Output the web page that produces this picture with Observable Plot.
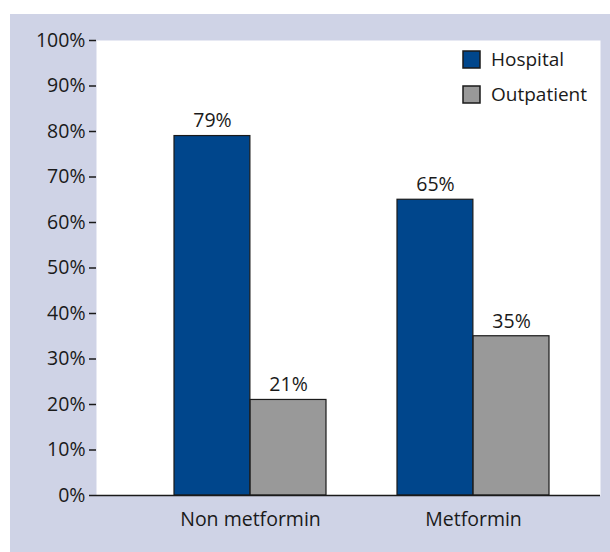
<!DOCTYPE html>
<html>
<head>
<meta charset="utf-8">
<script src="https://cdn.jsdelivr.net/npm/d3@7"></script>
<script src="https://cdn.jsdelivr.net/npm/@observablehq/plot@0.6"></script>
<style>
  html, body { margin: 0; padding: 0; background: #ffffff; }
  #panel {
    position: absolute; left: 10px; top: 14px;
    width: 600px; height: 538px;
    background: #cfd3e6;
    font-family: "Open Sans", "Noto Sans", sans-serif;
  }
  #panel > svg { position: absolute; left: 0; top: 0; overflow: visible; z-index: 1; }
  #legend { position: absolute; left: 453px; top: 36px; z-index: 2; width: 140px; }
  .key-swatches {
    display: flex !important; flex-direction: column; align-items: flex-start !important;
    margin: 0 !important; min-height: 0 !important;
  }
  .key-swatch {
    display: flex !important; align-items: center;
    font-size: 19px; color: #1a1a1a; margin: 0 0 16px 0 !important;
    font-family: "Open Sans", "Noto Sans", sans-serif; line-height: 19px;
    overflow: visible !important; white-space: nowrap; width: auto !important;
  }
  .key-swatch svg { position: static !important; overflow: visible; margin-right: 11px !important; }
  .key-swatch svg rect { stroke: #1a1a1a; stroke-width: 1.5px; }
</style>
</head>
<body>
<div id="panel"><div id="legend"></div></div>
<script>
// Share of patients by care setting, split by metformin use
const groups = ["Non metformin", "Metformin"];
const series = ["Hospital", "Outpatient"];
const hospital = [79, 65];
const outpatient = [21, 35];
const colors = ["#00468c", "#999999"];
const yTicks = [0, 10, 20, 30, 40, 50, 60, 70, 80, 90, 100];

const rows = groups.flatMap((g, i) => [
  {group: g, series: series[0], value: hospital[i]},
  {group: g, series: series[1], value: outpatient[i]}
]);

// Band layout for the two groups; each band is split between the two series
const width = 600, height = 538;
const margin = {top: 26, right: 10, bottom: 57, left: 86};
const padInner = 0.32, padOuter = 0.2857;
const innerW = width - margin.left - margin.right;
const step = innerW / (groups.length - padInner + 2 * padOuter);
const half = step * (1 - padInner) / 2;

const font = 19.5;

const chart = Plot.plot({
  width, height,
  marginTop: margin.top, marginRight: margin.right,
  marginBottom: margin.bottom, marginLeft: margin.left,
  style: {background: "transparent", fontFamily: "'Open Sans', 'Noto Sans', sans-serif", fontSize: `${font}px`, color: "#1a1a1a"},
  x: {domain: groups, paddingInner: padInner, paddingOuter: padOuter, align: 0.6, label: null},
  y: {domain: [0, 100], label: null},
  color: {domain: series, range: colors},
  marks: [
    Plot.frame({fill: "white", stroke: null}),
    Plot.barY(rows.filter(d => d.series === series[0]), {
      x: "group", y: "value", fill: "series", stroke: "#1a1a1a", strokeWidth: 1.2, insetRight: half
    }),
    Plot.barY(rows.filter(d => d.series === series[1]), {
      x: "group", y: "value", fill: "series", stroke: "#1a1a1a", strokeWidth: 1.2, insetLeft: half
    }),
    Plot.text(rows.filter(d => d.series === series[0]), {
      x: "group", y: "value", text: d => `${d.value}%`, dx: -half / 2, dy: -15,
      fontSize: font, fill: "#1a1a1a"
    }),
    Plot.text(rows.filter(d => d.series === series[1]), {
      x: "group", y: "value", text: d => `${d.value}%`, dx: half / 2, dy: -15,
      fontSize: font, fill: "#1a1a1a"
    }),
    Plot.ruleY([0], {stroke: "#1a1a1a", strokeWidth: 1.5}),
    Plot.axisY({ticks: yTicks, tickFormat: d => `${d}%`, tickSize: 7, tickPadding: 4,
      line: true, stroke: "#1a1a1a", strokeWidth: 1.5, fontSize: font, label: null}),
    Plot.axisX({tickSize: 0, tickPadding: 17, fontSize: font, label: null})
  ]
});
document.getElementById("panel").appendChild(chart);

const key = Plot.legend({
  color: {domain: series, range: colors},
  legend: "swatches", swatchSize: 17, className: "key"
});
document.getElementById("legend").appendChild(key);
</script>
</body>
</html>
